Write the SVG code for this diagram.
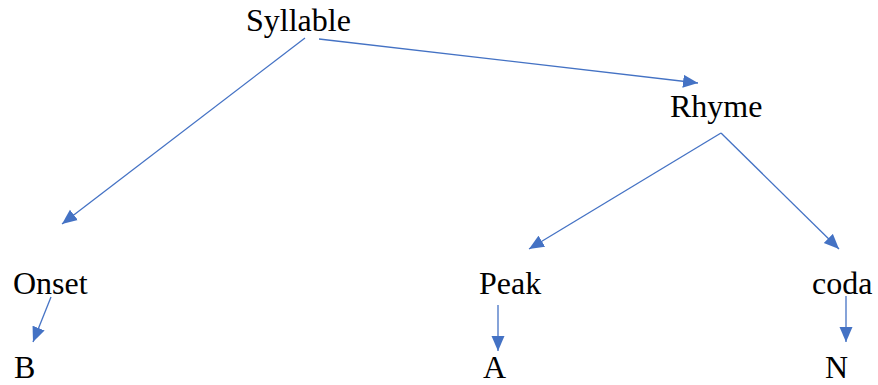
<svg xmlns="http://www.w3.org/2000/svg" width="878" height="385" viewBox="0 0 878 385">
<style>
text{font-family:"Liberation Serif","Times New Roman",serif;font-size:32px;fill:#000}
.c line{stroke:#4472C4;stroke-width:1.3;fill:none;marker-end:url(#ah)}
</style>
<defs>
<marker id="ah" markerUnits="userSpaceOnUse" markerWidth="16" markerHeight="14" refX="15" refY="6.5" orient="auto" viewBox="0 0 16 13">
<path d="M0,0 L15,6.5 L0,13 z" fill="#4472C4"/>
</marker>
</defs>
<rect width="878" height="385" fill="#fff"/>
<g id="syllable"><text x="246" y="31">Syllable</text></g>
<g id="rhyme"><text x="670" y="117">Rhyme</text></g>
<g id="onset"><text x="13" y="294">Onset</text></g>
<g id="peak"><text x="479" y="294">Peak</text></g>
<g id="coda"><text x="812" y="294">coda</text></g>
<g id="b"><text x="14" y="378">B</text></g>
<g id="a"><text x="483" y="378">A</text></g>
<g id="n"><text x="825" y="378">N</text></g>
<g class="c" id="connectors">
<line x1="305" y1="38" x2="62" y2="224"/>
<line x1="319" y1="39" x2="698" y2="83"/>
<line x1="721" y1="133" x2="529" y2="249"/>
<line x1="721" y1="133" x2="839" y2="249"/>
<line x1="51" y1="297" x2="33" y2="342"/>
<line x1="498" y1="305" x2="498" y2="351"/>
<line x1="846" y1="296" x2="846" y2="342"/>
</g>
</svg>
